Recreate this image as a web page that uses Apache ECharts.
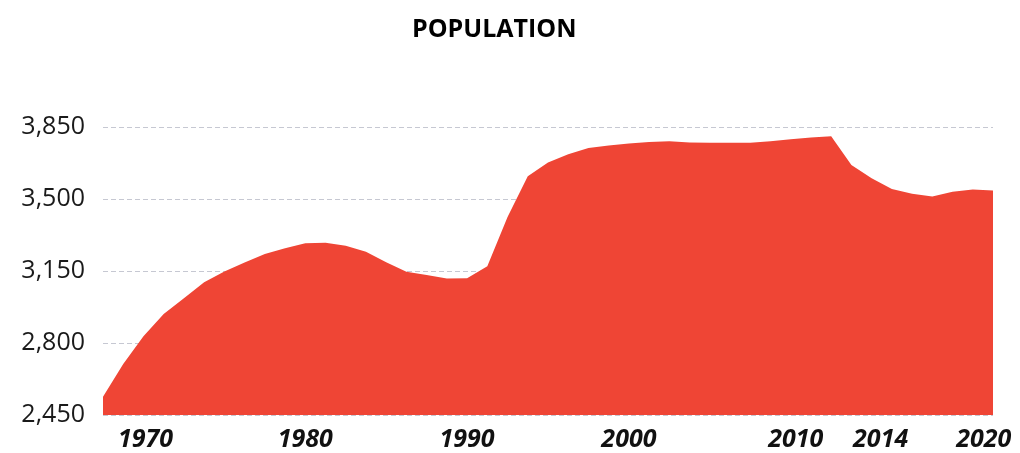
<!DOCTYPE html>
<html>
<head>
<meta charset="utf-8">
<script src="https://cdn.jsdelivr.net/npm/echarts@6/dist/echarts.min.js"></script>
<style>
html,body{margin:0;padding:0;background:#fff;}
#chart{width:1020px;height:453px;}
</style>
</head>
<body>
<div id="chart"></div>
<script>
const titleText = 'POPULATION';
const years = ['1968','1969','1970','1971','1972','1973','1975','1976','1977','1978',
  '1980','1981','1982','1983','1985','1986','1987','1988',
  '1990','1991','1992','1993','1995','1996','1997','1998',
  '2000','2001','2002','2003','2005','2006','2007','2008',
  '2010','2011','2012','2013','2014','2015','2016','2017','2018','2020','2021'];
const population = [2539, 2698, 2833, 2941, 3018, 3095, 3148, 3191, 3233, 3260,
  3285, 3287, 3273, 3243, 3192, 3146, 3130, 3114,
  3115, 3173, 3412, 3611, 3677, 3718, 3748, 3760,
  3770, 3777, 3781, 3775, 3774, 3774, 3774, 3781,
  3790, 3799, 3805, 3665, 3601, 3549, 3526, 3512, 3535, 3546, 3541];
const labelYears = ['1970','1980','1990','2000','2010','2014','2020'];
const yMin = 2450, yMax = 3850, yStep = 350;

const labelShift = {'1970': 4, '2010': 10, '2014': 18, '2020': 22};
const rich = {};
Object.keys(labelShift).forEach(k => {
  rich['s' + k] = {padding: [0, 0, 0, labelShift[k]], fontFamily: 'Open Sans', fontWeight: 'bold', fontStyle: 'italic', fontSize: 25, color: '#111'};
});

const chart = echarts.init(document.getElementById('chart'), null, {renderer: 'canvas'});
chart.setOption({
  animation: false,
  title: {
    text: titleText,
    left: 407,
    top: 12,
    textStyle: {fontFamily: 'Open Sans', fontWeight: 'bold', fontSize: 25, color: '#000'}
  },
  grid: {left: 103, right: 27, top: 127, bottom: 38, containLabel: false},
  xAxis: {
    type: 'category',
    data: years,
    boundaryGap: false,
    axisLine: {show: false},
    axisTick: {show: false},
    splitLine: {show: false},
    axisLabel: {
      interval: (idx, val) => labelYears.includes(val),
      margin: 12,
      fontFamily: 'Open Sans',
      fontWeight: 'bold',
      fontStyle: 'italic',
      fontSize: 25,
      color: '#111',
      formatter: v => labelShift[v] ? '{s' + v + '|' + v + '}' : v,
      rich: rich
    }
  },
  yAxis: {
    type: 'value',
    min: yMin,
    max: yMax,
    interval: yStep,
    axisLine: {show: false},
    axisTick: {show: false},
    axisLabel: {
      margin: 18,
      fontFamily: 'Open Sans',
      fontSize: 25,
      color: '#1a1a1a',
      formatter: v => v.toLocaleString('en-US')
    },
    splitLine: {lineStyle: {color: '#c6c8d2', type: [5, 3], width: 1}}
  },
  series: [{
    type: 'line',
    data: population,
    symbol: 'none',
    lineStyle: {width: 0, color: '#EF4535'},
    itemStyle: {color: '#EF4535'},
    areaStyle: {color: '#EF4535', opacity: 1}
  }]
});
</script>
</body>
</html>
